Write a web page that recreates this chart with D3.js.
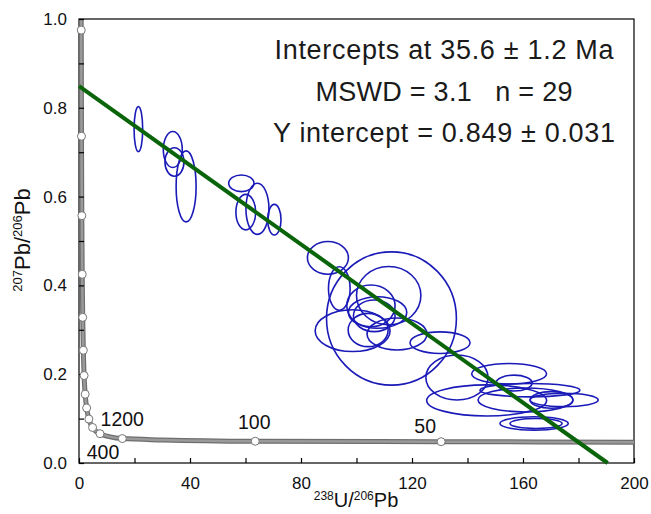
<!DOCTYPE html>
<html>
<head>
<meta charset="utf-8">
<script src="https://cdn.jsdelivr.net/npm/d3@7"></script>
<style>
  body { margin: 0; background: #fff; overflow: hidden; }
  svg { display: block; font-family: "Liberation Sans", Arial, sans-serif; }
</style>
</head>
<body>
<div id="chart"></div>
<script>
/* global d3 */

// Concordia curve (238U/206Pb, 207Pb/206Pb)
var concordiaX = [ 0.78, 0.81, 0.90, 1.02, 1.16, 1.34, 1.56, 1.84, 2.22, 2.75, 3.55, 4.89, 7.57, 15.6, 30, 63.5, 130.5, 200 ];
var concordiaY = [ 1.0, 0.975, 0.736, 0.557, 0.425, 0.328, 0.254, 0.197, 0.155, 0.124, 0.099, 0.080, 0.066, 0.055, 0.052, 0.049, 0.048, 0.047 ];

// Age markers on the concordia (Ma)
var markerAge = [ 5200, 4800, 4400, 4000, 3600, 3200, 2800, 2400, 2000, 1600, 1200, 800, 400, 100, 50 ];
var markerX = [ 0.81, 0.90, 1.02, 1.16, 1.34, 1.56, 1.84, 2.22, 2.75, 3.55, 4.89, 7.57, 15.6, 63.5, 130.5 ];
var markerY = [ 0.975, 0.736, 0.557, 0.425, 0.328, 0.254, 0.197, 0.155, 0.124, 0.099, 0.080, 0.066, 0.055, 0.049, 0.048 ];
var labelledAges = [ 1200, 400, 100, 50 ];

// Discordia
var yIntercept = 0.849;
var xAtZero = 190.5;

// Error ellipses: centre and half axes
var ellX  = [ 21.4, 33.8, 34.4, 38.6, 58.5, 60.1, 64.3, 70.4, 89.7, 112.6, 93.8, 111.6, 105.2, 107.6, 106.4, 98.6, 104.2, 114.6, 130.1, 136.2, 155.0, 156.8, 146.9, 162.5, 160.9, 170.3, 174.8, 164.0, 164.7 ];
var ellY  = [ 0.752, 0.706, 0.678, 0.623, 0.630, 0.565, 0.5725, 0.548, 0.462, 0.3255, 0.393, 0.377, 0.354, 0.339, 0.3315, 0.298, 0.2995, 0.2905, 0.271, 0.1926, 0.201, 0.180, 0.141, 0.164, 0.142, 0.142, 0.142, 0.089, 0.089 ];
var ellRx = [ 1.55, 3.42, 3.42, 3.6, 4.56, 3.55, 4.14, 2.4, 7.39, 23.4, 3.9, 11.6, 8.7, 10.5, 7.5, 13.5, 7.2, 10.8, 10.8, 11.2, 13.5, 6.5, 21.6, 18, 17.1, 7.7, 12.3, 12.3, 9.4 ];
var ellRy = [ 0.0507, 0.0405, 0.032, 0.080, 0.0188, 0.040, 0.0575, 0.0345, 0.0368, 0.150, 0.049, 0.0657, 0.047, 0.0356, 0.0356, 0.047, 0.0375, 0.036, 0.0243, 0.0507, 0.0232, 0.018, 0.035, 0.015, 0.027, 0.0188, 0.015, 0.015, 0.0113 ];

var xTicks = d3.range( 0, 201, 20 );
var yTicks = d3.range( 0, 1.001, 0.1 );

var statLines = [ "Intercepts at 35.6 \u00b1 1.2 Ma", "MSWD = 3.1   n = 29", "Y intercept = 0.849 \u00b1 0.031" ];
var statWidths = [ 339, 257, 342 ];

var width = 651, height = 514;
var margin = { top: 19, right: 17, bottom: 51, left: 79 };
var innerWidth = width - margin.left - margin.right,
  innerHeight = height - margin.top - margin.bottom;

var svg = d3.select( "#chart" ).append( "svg" )
  .attr( "width", width )
  .attr( "height", height );

var g = svg.append( "g" )
  .attr( "transform", "translate(" + margin.left + "," + margin.top + ")" );

var x = d3.scaleLinear().domain( [ 0, 200 ] ).range( [ 0, innerWidth ] );
var y = d3.scaleLinear().domain( [ 0, 1 ] ).range( [ innerHeight, 0 ] );

// frame
g.append( "rect" )
  .attr( "width", innerWidth )
  .attr( "height", innerHeight )
  .attr( "fill", "none" )
  .attr( "stroke", "#000" )
  .attr( "stroke-width", 1.2 );

// ellipses
var ellipses = d3.range( ellX.length );
g.selectAll( ".ell" )
  .data( ellipses )
  .enter()
  .append( "ellipse" )
    .attr( "class", "ell" )
    .attr( "cx", function( i ) { return x( ellX[ i ] ); } )
    .attr( "cy", function( i ) { return y( ellY[ i ] ); } )
    .attr( "rx", function( i ) { return x( ellRx[ i ] ) - x( 0 ); } )
    .attr( "ry", function( i ) { return y( 0 ) - y( ellRy[ i ] ); } )
    .attr( "fill", "none" )
    .attr( "stroke", "#1a1ab8" )
    .attr( "stroke-width", 1.6 );

// concordia
var concordia = d3.range( concordiaX.length ).map( function( i ) { return [ concordiaX[ i ], concordiaY[ i ] ]; } );
var line = d3.line()
  .x( function( d ) { return x( d[ 0 ] ); } )
  .y( function( d ) { return y( d[ 1 ] ); } )
  .curve( d3.curveMonotoneX );

g.append( "path" )
  .datum( concordia )
  .attr( "d", line )
  .attr( "fill", "none" )
  .attr( "stroke", "#6e6e6e" )
  .attr( "stroke-width", 5 );
g.append( "path" )
  .datum( concordia )
  .attr( "d", line )
  .attr( "fill", "none" )
  .attr( "stroke", "#9a9a9a" )
  .attr( "stroke-width", 2.5 );

// discordia
g.append( "line" )
  .attr( "x1", x( 0 ) )
  .attr( "y1", y( yIntercept ) )
  .attr( "x2", x( xAtZero ) )
  .attr( "y2", y( 0 ) )
  .attr( "stroke", "#0a640a" )
  .attr( "stroke-width", 4 );

// axes, ticks pointing inward
var xAxis = d3.axisBottom( x )
  .tickValues( xTicks )
  .tickSizeInner( -5 )
  .tickSizeOuter( 0 )
  .tickPadding( 14 )
  .tickFormat( function( d ) { return d % 40 === 0 ? d : ""; } );

var yAxis = d3.axisLeft( y )
  .tickValues( yTicks )
  .tickSizeInner( -5 )
  .tickSizeOuter( 0 )
  .tickPadding( 12 )
  .tickFormat( function( d ) { return Math.round( d * 10 ) % 2 === 0 ? d3.format( ".1f" )( d ) : ""; } );

var gx = g.append( "g" )
  .attr( "transform", "translate(0," + innerHeight + ")" )
  .call( xAxis );
var gy = g.append( "g" ).call( yAxis );

[ gx, gy ].forEach( function( a ) {
  a.select( ".domain" ).remove();
  a.selectAll( "line" ).attr( "stroke", "#000" ).attr( "stroke-width", 1.2 );
  a.selectAll( "text" )
    .attr( "font-family", "Liberation Sans, Arial, sans-serif" )
    .attr( "font-size", 17 )
    .attr( "fill", "#111" );
  // drop the empty minor labels
  a.selectAll( "text" ).filter( function() { return this.textContent === ""; } ).remove();
} );

// age markers on top
g.selectAll( ".marker" )
  .data( markerAge )
  .enter()
  .append( "circle" )
    .attr( "class", "marker" )
    .attr( "cx", function( d, i ) { return x( markerX[ i ] ); } )
    .attr( "cy", function( d, i ) { return y( markerY[ i ] ); } )
    .attr( "r", 4 )
    .attr( "fill", "#fff" )
    .attr( "stroke", "#777" )
    .attr( "stroke-width", 1 );

// age labels, offset from their marker
var labelOffset = {
  1200: { dx: 8, dy: -1, anchor: "start" },
  400: { dx: -3, dy: 20, anchor: "end" },
  100: { dx: -1, dy: -12, anchor: "middle" },
  50: { dx: -16, dy: -9, anchor: "middle" }
};
g.selectAll( ".age" )
  .data( labelledAges )
  .enter()
  .append( "text" )
    .attr( "class", "age" )
    .attr( "x", function( d ) { return x( markerX[ markerAge.indexOf( d ) ] ) + labelOffset[ d ].dx; } )
    .attr( "y", function( d ) { return y( markerY[ markerAge.indexOf( d ) ] ) + labelOffset[ d ].dy; } )
    .attr( "text-anchor", function( d ) { return labelOffset[ d ].anchor; } )
    .attr( "font-size", 19.5 )
    .attr( "fill", "#111" )
    .text( function( d ) { return d; } );

// stats text
svg.selectAll( ".stat" )
  .data( statLines )
  .enter()
  .append( "text" )
    .attr( "class", "stat" )
    .attr( "x", 444 )
    .attr( "y", function( d, i ) { return 59 + i * 41.5; } )
    .attr( "text-anchor", "middle" )
    .attr( "font-size", 27 )
    .attr( "textLength", function( d, i ) { return statWidths[ i ]; } )
    .attr( "lengthAdjust", "spacing" )
    .attr( "fill", "#1a1a1a" )
    .style( "white-space", "pre" )
    .text( function( d ) { return d; } );

// axis titles
var xt = svg.append( "text" )
  .attr( "x", 356 )
  .attr( "y", 507 )
  .attr( "text-anchor", "middle" )
  .attr( "font-size", 20 )
  .attr( "fill", "#111" );
xt.append( "tspan" ).attr( "font-size", 12 ).attr( "dy", -7 ).text( "238" );
xt.append( "tspan" ).attr( "dy", 7 ).text( "U/" );
xt.append( "tspan" ).attr( "font-size", 12 ).attr( "dy", -7 ).text( "206" );
xt.append( "tspan" ).attr( "dy", 7 ).text( "Pb" );

var yt = svg.append( "text" )
  .attr( "transform", "translate(30,240) rotate(-90)" )
  .attr( "text-anchor", "middle" )
  .attr( "font-size", 22 )
  .attr( "fill", "#111" );
yt.append( "tspan" ).attr( "font-size", 13 ).attr( "dy", -8 ).text( "207" );
yt.append( "tspan" ).attr( "dy", 8 ).text( "Pb/" );
yt.append( "tspan" ).attr( "font-size", 13 ).attr( "dy", -8 ).text( "206" );
yt.append( "tspan" ).attr( "dy", 8 ).text( "Pb" );
</script>
</body>
</html>
